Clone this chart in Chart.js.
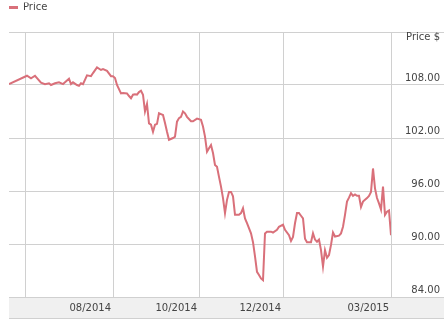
<!DOCTYPE html>
<html><head><meta charset="utf-8">
<style>html,body{margin:0;padding:0;background:#fff}</style>
<script src="https://cdn.jsdelivr.net/npm/chart.js@4/dist/chart.umd.min.js"></script>
</head><body>
<canvas id="c" width="444" height="328" style="display:block;width:444px;height:328px"></canvas>
<script>
const seriesName = 'Price';
const yAxisTitle = 'Price $';
// trading-day index since start of series
const days = [0,9,11,13,16,18,20,21,23,25,27,28,30,31,32,34,35,36,37,39,41,42,44,46,47,49,51,52,53,54,56,57,59,60,61,62,63,64,65,66,67,68,69,70,71,72,73,74,75,76,77,78,79,80,82,83,84,85,86,87,88,89,91,92,94,96,97,98,99,100,101,102,103,104,105,106,107,108,109,110,111,112,113,115,116,117,118,119,121,122,123,124,125,126,127,128,129,131,132,134,135,137,138,140,141,142,143,144,145,146,147,148,149,151,152,153,154,155,156,157,158,159,160,161,162,163,165,166,167,168,169,170,171,172,173,174,175,176,177,178,179,180,181,182,183,184,185,186,187,188,189,190,191];
const prices = [108.1,109.05,108.75,109.05,108.26,108.1,108.2,108.0,108.2,108.3,108.1,108.3,108.7,108.1,108.3,108.0,107.9,108.2,108.1,109.1,109.0,109.35,110.0,109.7,109.8,109.6,109.0,109.0,108.8,108.0,107.05,107.1,107.05,106.75,106.5,106.9,106.95,106.9,107.2,107.35,106.9,105.0,105.85,103.65,103.5,102.7,103.5,103.6,104.8,104.7,104.6,103.7,102.7,101.8,102.0,102.15,103.85,104.25,104.4,105.0,104.8,104.4,103.9,103.9,104.2,104.05,103.3,102.15,100.45,100.85,101.2,100.3,98.95,98.75,97.6,96.5,95.2,93.5,95.0,95.9,95.9,95.4,93.3,93.3,93.5,94.05,92.9,92.35,91.2,90.2,88.6,86.85,86.5,86.1,85.9,91.2,91.4,91.4,91.3,91.6,91.95,92.2,91.6,91.0,90.35,90.8,92.35,93.5,93.5,93.2,92.9,90.6,90.2,90.2,91.2,90.5,90.25,90.5,89.3,87.45,89.3,88.45,88.75,89.9,91.3,90.85,90.95,91.2,91.95,93.3,94.8,95.25,95.75,95.45,95.6,95.45,95.45,94.2,94.8,95.0,95.2,95.45,95.9,98.55,96.3,95.2,94.6,93.9,96.5,93.3,93.65,93.8,91.0];
const xTickDays = [8, 52, 95, 137, 191];
const xTickLabels = ['', '08/2014', '10/2014', '12/2014', '03/2015'];
const yTickValues = [84, 90, 96, 102, 108, 114];

const LINE = '#d9707a';
const GRID = '#d0d0d0';
const TEXT = '#444444';
const FONT = {family: 'DejaVu Sans', size: 10};

const bandPlugin = {
  id: 'band',
  beforeLayout(chart) {
    const lg = chart.legend;
    if (lg && !lg._padPatched) {
      const fit = lg.fit;
      lg.fit = function () { fit.call(this); this.height += 9.5; };
      lg._padPatched = true;
    }
  },
  beforeDraw(chart) {
    const {ctx, chartArea} = chart;
    const x = chart.scales.x;
    ctx.save();
    ctx.fillStyle = '#f0f0f0';
    ctx.fillRect(chartArea.left, x.top, chart.width - chartArea.left, x.bottom - x.top);
    ctx.strokeStyle = GRID;
    ctx.lineWidth = 1;
    ctx.beginPath();
    ctx.moveTo(chartArea.left, x.bottom + 0.5);
    ctx.lineTo(chart.width, x.bottom + 0.5);
    ctx.stroke();
    ctx.restore();
  }
};

new Chart(document.getElementById('c'), {
  type: 'line',
  data: {
    datasets: [{
      label: seriesName,
      data: days.map((d, i) => ({x: d, y: prices[i]})),
      borderColor: LINE,
      backgroundColor: LINE,
      borderWidth: 2,
      pointRadius: 0,
      tension: 0,
      fill: false
    }]
  },
  options: {
    responsive: false,
    animation: false,
    devicePixelRatio: 1,
    layout: {padding: {top: 2.5, left: 9, right: 4, bottom: 10}},
    plugins: {
      tooltip: {enabled: false},
      legend: {
        display: true,
        position: 'top',
        align: 'start',
        labels: {
          boxWidth: 9,
          boxHeight: 3,
          padding: 0,
          color: TEXT,
          font: FONT,
          generateLabels: (chart) => Chart.defaults.plugins.legend.labels.generateLabels(chart).map(l => Object.assign(l, {lineWidth: 0}))
        }
      }
    },
    scales: {
      x: {
        type: 'linear',
        position: 'bottom',
        min: 0,
        max: 191,
        afterBuildTicks: (s) => { s.ticks = xTickDays.map(v => ({value: v})); },
        afterFit: (s) => { s.height = 21; },
        grid: {display: true, color: GRID, drawTicks: false, lineWidth: 1},
        border: {display: false},
        ticks: {
          autoSkip: false,
          maxRotation: 0,
          align: 'end',
          labelOffset: -2,
          padding: 5,
          color: TEXT,
          font: FONT,
          callback: (v, i) => xTickLabels[i]
        }
      },
      y: {
        type: 'linear',
        position: 'right',
        min: 84,
        max: 114,
        afterBuildTicks: (s) => { s.ticks = yTickValues.map(v => ({value: v})); },
        afterFit: (s) => { s.width = 49; },
        grid: {color: GRID, drawTicks: true, tickLength: 53, lineWidth: 1},
        border: {display: true, color: GRID},
        ticks: {
          crossAlign: 'far',
          labelOffset: -7,
          padding: 0,
          color: TEXT,
          font: FONT,
          callback: (v) => v === yTickValues[yTickValues.length - 1] ? ['', '', yAxisTitle] : v.toFixed(2)
        }
      }
    }
  },
  plugins: [bandPlugin]
});
</script>
</body></html>
